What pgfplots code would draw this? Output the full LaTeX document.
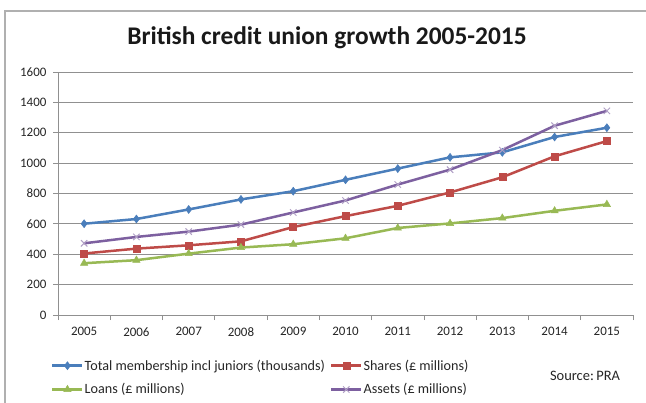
\documentclass[border=0pt]{standalone}
\usepackage{fontspec}
\setmainfont{Carlito}
\usepackage{pgfplots}
\pgfplotsset{compat=1.18}
\definecolor{cblue}{HTML}{4A7EBB}
\definecolor{cred}{HTML}{BE4B48}
\definecolor{cgreen}{HTML}{98B954}
\definecolor{cpurple}{HTML}{7D60A0}
\definecolor{gridc}{HTML}{909090}
\definecolor{framec}{HTML}{B0B0B0}
\begin{document}
\begin{tikzpicture}
\useasboundingbox (0bp,0bp) rectangle (646bp,403bp);
\fill[white] (0bp,0bp) rectangle (646bp,403bp);
\draw[framec, line width=1.2bp] (5bp,0bp) -- (5bp,392bp) -- (646bp,392bp);
\node[font=\fontsize{25.5}{28}\selectfont\bfseries, text=black!90] at (327bp,365bp) {British credit union growth 2005-2015};
\begin{axis}[
  at={(58bp,88bp)}, anchor=south west,
  scale only axis, width=575bp, height=243bp,
  xmin=-0.5, xmax=10.5, ymin=0, ymax=1600,
  xtick={0,...,10},
  xticklabels={2005,2006,2007,2008,2009,2010,2011,2012,2013,2014,2015},
  minor xtick={-0.5,0.5,...,10.5},
  ytick={0,200,...,1600},
  axis x line*=bottom, axis y line*=left,
  axis line style={gridc, line width=0.8bp, -},
  tick align=outside,
  major x tick style={draw=none},
  minor x tick style={gridc, line width=0.8bp},
  major y tick style={gridc, line width=0.8bp},
  major tick length=5bp, minor tick length=5bp,
  ymajorgrids, grid style={gridc, line width=0.8bp},
  /pgf/number format/assume math mode=true,
  /pgf/number format/1000 sep={},
  tick label style={font=\fontsize{13}{15}\selectfont, text=black!85},
  xticklabel style={yshift=-3bp},
  yticklabel style={xshift=-2bp},
  line width=2.5bp,
  legend columns=2,
  legend cell align=left,
  legend style={draw=none, fill=none, at={(-0.014,-0.175)}, anchor=north west,
    font=\fontsize{14.2}{16}\selectfont, text=black!85, inner sep=0pt, row sep=10bp,
    nodes={inner sep=1bp},
    /tikz/every even column/.append style={column sep=4bp}},
  legend image code/.code={\draw[mark repeat=2,mark phase=2] plot coordinates {(0bp,0bp) (15bp,0bp) (30bp,0bp)};},
]
\addplot[cblue, mark=diamond*, mark size=4bp, mark options={line width=0.5bp}] coordinates {
(0,601) (1,632) (2,695) (3,761) (4,815) (5,890) (6,964) (7,1038) (8,1071) (9,1172) (10,1233)};
\addlegendentry{Total membership incl juniors (thousands)}
\addplot[cred, mark=square*, mark size=3.5bp, mark options={line width=0.5bp}] coordinates {
(0,405) (1,437) (2,459) (3,485) (4,579) (5,651) (6,719) (7,807) (8,907) (9,1045) (10,1145)};
\addlegendentry{Shares (£ millions)}
\addplot[cgreen, mark=triangle*, mark size=4.2bp, mark options={line width=0.5bp}] coordinates {
(0,341) (1,361) (2,404) (3,444) (4,466) (5,505) (6,573) (7,603) (8,638) (9,686) (10,728)};
\addlegendentry{Loans (£ millions)}
\addplot[cpurple, mark=x, mark size=4.5bp, mark options={line width=1bp, draw=cpurple!60}] coordinates {
(0,472) (1,514) (2,549) (3,595) (4,675) (5,754) (6,859) (7,957) (8,1086) (9,1246) (10,1344)};
\addlegendentry{Assets (£ millions)}
\end{axis}
\node[font=\fontsize{14.5}{16}\selectfont, text=black!85] at (585bp,27bp) {Source:\,PRA};
\end{tikzpicture}
\end{document}
